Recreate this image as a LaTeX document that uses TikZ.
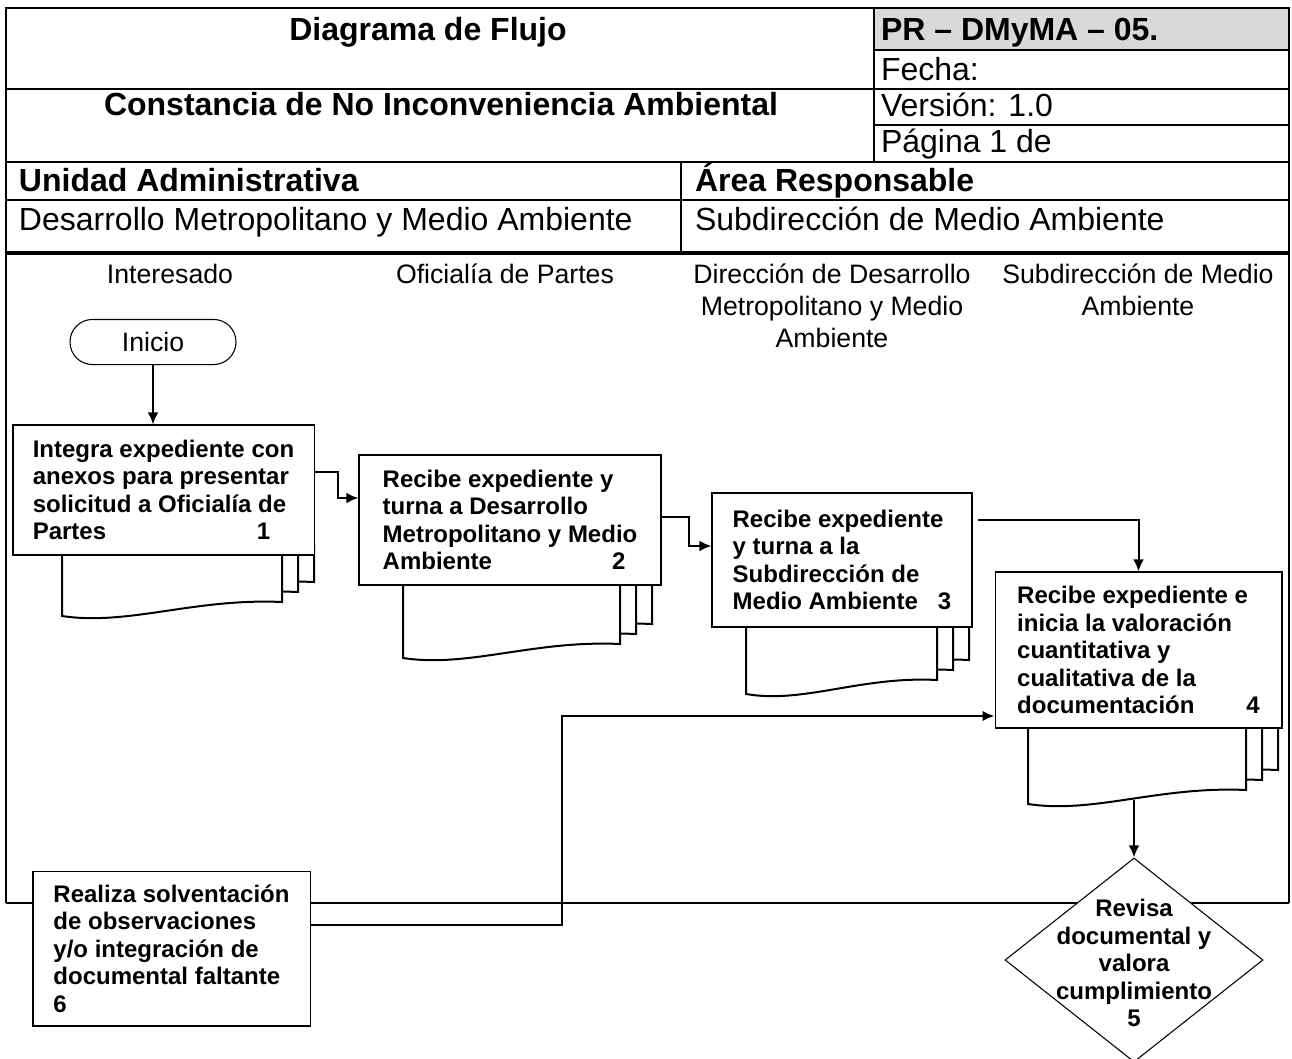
\documentclass[tikz,border=0pt]{standalone}
\usepackage{fontspec}
\setmainfont{Liberation Sans}
\usetikzlibrary{arrows.meta,shapes.geometric}

\begin{document}
\begin{tikzpicture}[x=0.375pt,y=-0.375pt,>={Latex[length=4.5pt,width=4pt]},line width=0.75pt,
  cab/.style={anchor=base west,inner sep=0pt,font=\fontsize{12}{14}\selectfont},
  cabn/.style={cab,font=\fontsize{12}{14}\selectfont\bfseries},
  carril/.style={anchor=base,align=center,inner sep=0pt,font=\fontsize{10}{12}\selectfont},
  caja/.style={draw,line width=0.4pt,fill=white,align=left,inner sep=2pt,font=\fontsize{9}{10.3}\selectfont\bfseries},
  hoja/.style={draw,fill=white},
  inicio/.style={draw,line width=0.4pt,rounded corners=8.4pt,minimum width=62.25pt,minimum height=16.9pt,inner sep=0pt,font=\fontsize{10}{12}\selectfont},
  decision/.style={diamond,draw,line width=0.4pt,fill=white,minimum width=96.75pt,minimum height=76.5pt,inner sep=0pt}]
\useasboundingbox (0,0) rectangle (1292,1059);
% encabezado
\fill[black!15] (874,8) rectangle (1289,50);
\draw (6,903) -- (6,8) -- (1289,8) -- (1289,903);
\draw[line width=1.1pt] (6,903) -- (1289,903);
\draw (874,8) -- (874,162);
\draw (874,50) -- (1289,50) (874,125) -- (1289,125);
\draw (6,89) -- (1289,89) (6,162) -- (1289,162) (6,200) -- (1289,200);
\draw (681,162) -- (681,253);
\draw[line width=1.2pt] (6,253) -- (1289,253);
\node[cabn,anchor=base] (tit) at (428,41) {Diagrama de Flujo};
\node[cabn,anchor=base] (nom) at (441,116) {Constancia de No Inconveniencia Ambiental};
\node[cabn] (cod) at (880,41) {PR – DMyMA – 05.};
\node[cab] (fec) at (880,81) {Fecha:};
\node[cab] (ver) at (880,117) {Versión: 1.0};
\node[cab] (pag) at (880,153) {Página 1 de};
\node[cabn] (uad) at (18,192) {Unidad Administrativa};
\node[cabn] (are) at (694,192) {Área Responsable};
\node[cab] (uadv) at (18,231) {Desarrollo Metropolitano y Medio Ambiente};
\node[cab] (arev) at (694,231) {Subdirección de Medio Ambiente};
% carriles (base = ultima linea)
\node[carril] (c1) at (170,283) {Interesado};
\node[carril] (c2) at (505,283) {Oficialía de Partes};
\node[carril] (c3) at (832,347) {Dirección de Desarrollo\\Metropolitano y Medio\\Ambiente};
\node[carril] (c4) at (1138,315) {Subdirección de Medio\\Ambiente};
% documentos
\foreach \xl/\xr/\yb/\yt in {62/282/602/555,403/620/644/585,746/937/680/627,1028/1246/790/728}
  \foreach \k in {2,1,0}
    \draw[hoja] ({\xl+16*\k},{\yt-10}) -- ({\xl+16*\k},{\yb+14-10*\k})
      .. controls ({\xl+16*\k+0.3*(\xr-\xl)},{\yb+24-10*\k}) and ({\xl+16*\k+0.6*(\xr-\xl)},{\yb-4-10*\k})
      .. ({\xr+16*\k},{\yb-10*\k}) -- ({\xr+16*\k},{\yt-10}) -- cycle;
\coordinate (w4) at (1134,800);
% pasos
\node[inicio] (ini) at (153,342) {Inicio};
\node[caja,minimum width=112.9pt,minimum height=48.75pt] (p1) at (163.5,490) {Integra expediente con\\anexos para presentar\\solicitud a Oficialía de\\\makebox[84pt][l]{Partes}1};
\node[caja,minimum width=113.25pt,minimum height=48.75pt] (p2) at (510,520) {Recibe expediente y\\turna a Desarrollo\\Metropolitano y Medio\\\makebox[86pt][l]{Ambiente}2};
\node[caja,minimum width=97.5pt,minimum height=50.25pt] (p3) at (842,560) {Recibe expediente\\y turna a la\\Subdirección de\\\makebox[77pt][l]{Medio Ambiente}3};
\node[caja,minimum width=107.6pt,minimum height=58.5pt] (p4) at (1138.5,650) {Recibe expediente e\\inicia la valoración\\cuantitativa y\\cualitativa de la\\\makebox[86pt][l]{documentación}4};
\node[decision] (p5) at (1134,960) {};
\node[align=center,inner sep=0pt,font=\fontsize{9}{10.3}\selectfont\bfseries] (t5) at (1134,963) {Revisa\\documental y\\valora\\cumplimiento\\5};
\node[caja,minimum width=103.9pt,minimum height=58.1pt] (p6) at (171.5,948.5) {Realiza solventación\\de observaciones\\y/o integración de\\documental faltante\\6};
% conectores
\draw[->] (ini.south) -- (ini.south |- p1.north);
\draw[->] (p1.east |- 0,472) -- (338,472) |- (p2.west |- 0,498);
\draw[->] (p2.east |- 0,517) -- (689,517) |- (p3.west |- 0,546);
\draw[->] ([xshift=2pt]p3.east |- 0,520) -| (p4.north);
\draw[->] (w4) -- (p5.north);
\draw[->,line width=1pt] (p6.east |- 0,925) -- (562,925) |- (p4.west |- 0,716);
\end{tikzpicture}
\end{document}
